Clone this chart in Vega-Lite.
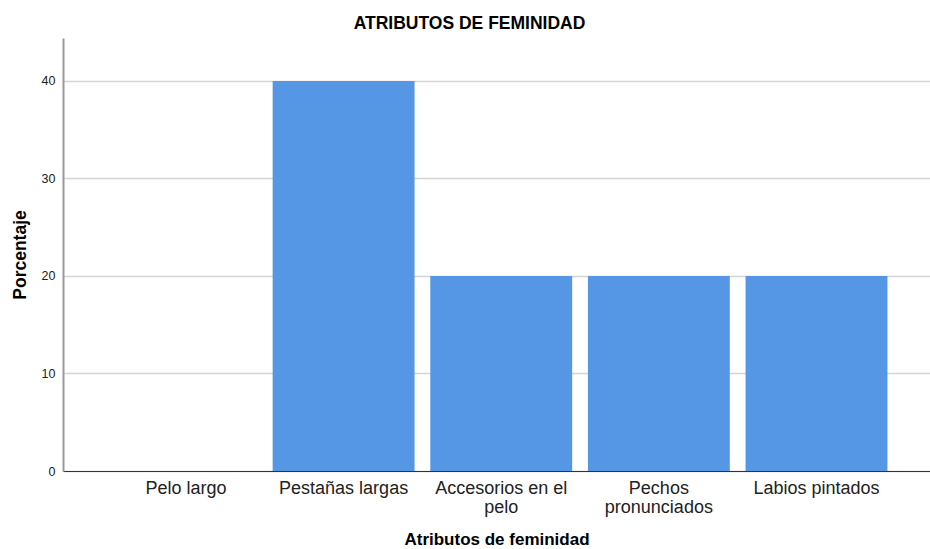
{
  "$schema": "https://vega.github.io/schema/vega-lite/v6.json",
  "autosize": "none",
  "padding": {"left": 63, "top": 38, "right": 0, "bottom": 78},
  "width": 867,
  "height": 433,
  "background": "white",
  "title": {
    "text": "ATRIBUTOS DE FEMINIDAD",
    "font": "Liberation Sans",
    "fontSize": 17.5,
    "fontWeight": "bold",
    "color": "#000000",
    "anchor": "middle",
    "dx": -27,
    "offset": 6
  },
  "data": {
    "values": [
      {"atributo": "Pelo largo", "porcentaje": 0},
      {"atributo": "Pestañas largas", "porcentaje": 40},
      {"atributo": "Accesorios en el pelo", "porcentaje": 20},
      {"atributo": "Pechos pronunciados", "porcentaje": 20},
      {"atributo": "Labios pintados", "porcentaje": 20}
    ]
  },
  "mark": {"type": "bar", "color": "#5596E5"},
  "encoding": {
    "x": {
      "field": "atributo",
      "type": "nominal",
      "sort": null,
      "scale": {"paddingInner": 0.1, "paddingOuter": 0.3, "align": 0.55},
      "axis": {
        "title": "Atributos de feminidad",
        "titleFont": "Liberation Sans",
        "titleFontSize": 17,
        "titleFontWeight": "bold",
        "titleColor": "#000000",
        "titlePadding": 15,
        "labelAngle": 0,
        "labelFont": "Liberation Sans",
        "labelFontSize": 18,
        "labelColor": "#222222",
        "labelPadding": 8,
        "labelLineHeight": 19,
        "labelExpr": "datum.value == 'Accesorios en el pelo' ? ['Accesorios en el', 'pelo'] : datum.value == 'Pechos pronunciados' ? ['Pechos', 'pronunciados'] : datum.value",
        "ticks": false,
        "domainColor": "#333333",
        "domainWidth": 1,
        "grid": false
      }
    },
    "y": {
      "field": "porcentaje",
      "type": "quantitative",
      "scale": {"domain": [0, 44.4], "nice": false},
      "axis": {
        "title": "Porcentaje",
        "titleFont": "Liberation Sans",
        "titleFontSize": 17.5,
        "titleFontWeight": "bold",
        "titleColor": "#000000",
        "titlePadding": 12,
        "values": [0, 10, 20, 30, 40],
        "labelFont": "Liberation Sans",
        "labelFontSize": 12.5,
        "labelColor": "#222222",
        "labelPadding": 8,
        "ticks": false,
        "domainColor": "#999999",
        "domainWidth": 2,
        "grid": true,
        "gridColor": "#d4d4d4",
        "gridWidth": 1.5
      }
    }
  },
  "config": {"view": {"stroke": null}}
}
